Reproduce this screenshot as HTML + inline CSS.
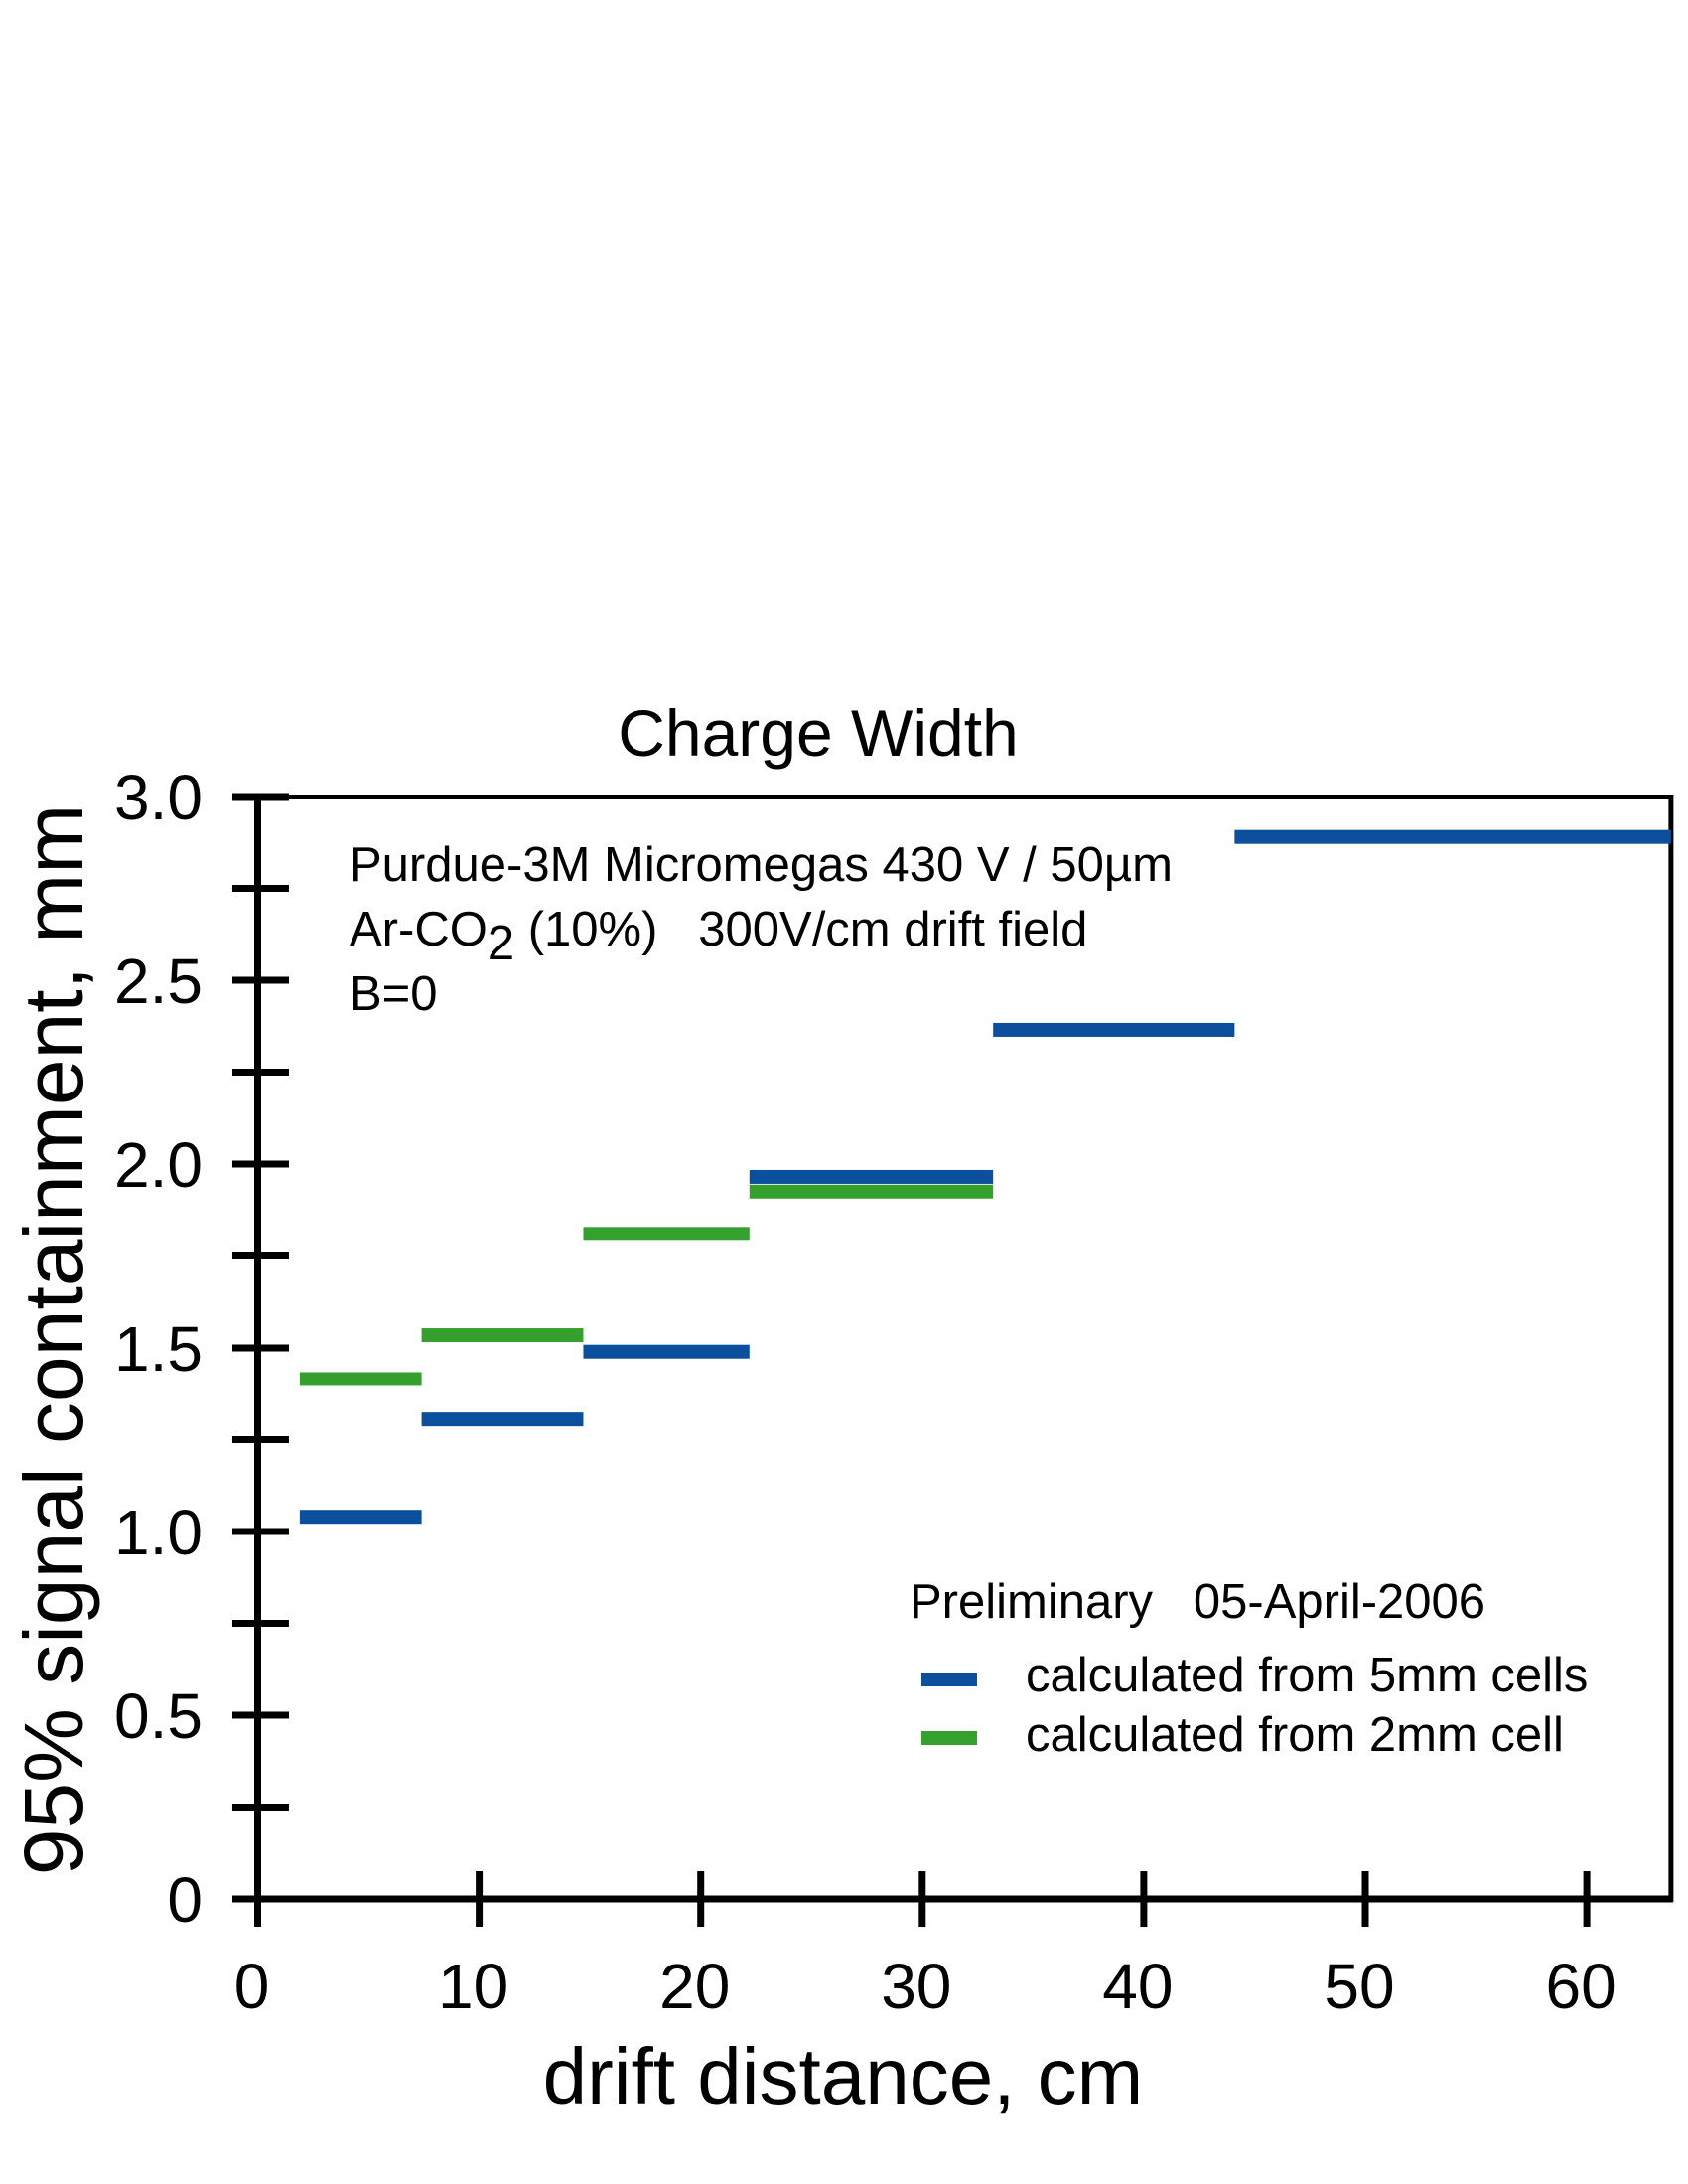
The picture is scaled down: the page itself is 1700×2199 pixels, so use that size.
<!DOCTYPE html>
<html><head><meta charset="utf-8"><style>
html,body{margin:0;padding:0;background:#fff;}
svg{display:block;font-family:"Liberation Sans",Arial,sans-serif;}
</style></head><body>
<svg id="chart" width="1700" height="2199" viewBox="0 0 1700 2199" xmlns="http://www.w3.org/2000/svg">
<rect x="0" y="0" width="1700" height="2199" fill="#fff"/>
<text x="824" y="761" font-size="66" text-anchor="middle">Charge Width</text>
<g id="frame"></g>
<g id="yticks"></g>
<g id="xticks"></g>
<g id="bars"></g>
<text transform="translate(83,1349) rotate(-90)" font-size="84" text-anchor="middle">95% signal containment, mm</text>
<text x="849" y="2118" font-size="80" text-anchor="middle">drift distance, cm</text>
<g font-size="49">
<text x="352" y="887">Purdue-3M Micromegas 430 V / 50µm</text>
<text x="352" y="952" xml:space="preserve">Ar-CO<tspan dy="14">2</tspan><tspan dy="-14"> (10%)   300V/cm drift field</tspan></text>
<text x="352" y="1017">B=0</text>
</g>
<text x="916" y="1629" font-size="49" xml:space="preserve">Preliminary   05-April-2006</text>
<g>
<rect x="928" y="1684" width="56" height="14" fill="#0c4f9c"/>
<text x="1033" y="1703" font-size="49">calculated from 5mm cells</text>
<rect x="928" y="1743" width="56" height="14" fill="#36a02e"/>
<text x="1033" y="1763" font-size="49">calculated from 2mm cell</text>
</g>
</svg>
<script>
const xTicks = [0,10,20,30,40,50,60];
const xTickLabels = ["0","10","20","30","40","50","60"];
const yTicks = [0,0.5,1.0,1.5,2.0,2.5,3.0];
const yTickLabels = ["0","0.5","1.0","1.5","2.0","2.5","3.0"];
const yMinorTicks = [0.25,0.75,1.25,1.75,2.25,2.75];
const blueStart = [1.9,7.4,14.7,22.2,33.2,44.1];
const blueEnd = [7.4,14.7,22.2,33.2,44.1,63.8];
const blueValues = [1.04,1.305,1.49,1.965,2.365,2.89];
const greenStart = [1.9,7.4,14.7,22.2];
const greenEnd = [7.4,14.7,22.2,33.2];
const greenValues = [1.415,1.535,1.81,1.925];

const NS = "http://www.w3.org/2000/svg";
const X0 = 259.5, XS = 22.31, Y0 = 1912, YS = 370;
const xMax = 63.8, yMax = 3.0;
function sx(v){ return X0 + v*XS; }
function sy(v){ return Y0 - v*YS; }
function mk(tag, attrs, parent){
  const e = document.createElementNS(NS, tag);
  for (const k in attrs) e.setAttribute(k, attrs[k]);
  parent.appendChild(e);
  return e;
}
const frame = document.getElementById('frame');
let e;
e = mk('line',{x1:sx(0),y1:sy(yMax),x2:sx(xMax),y2:sy(yMax),stroke:'#000','stroke-width':4},frame);


e = mk('line',{x1:sx(xMax),y1:sy(yMax)-2,x2:sx(xMax),y2:sy(0)+3,stroke:'#000','stroke-width':5},frame);


e = mk('line',{x1:sx(0),y1:sy(yMax),x2:sx(0),y2:1940,stroke:'#000','stroke-width':7},frame);


e = mk('line',{x1:234,y1:sy(0),x2:sx(xMax)+2,y2:sy(0),stroke:'#000','stroke-width':7},frame);



const yt = document.getElementById('yticks');
yTicks.forEach((v,i)=>{
  const l = mk('line',{x1:234,y1:sy(v),x2:291,y2:sy(v),stroke:'#000','stroke-width':7},yt);
  
  
  const t = mk('text',{x:204,y:sy(v)+23,'font-size':64,'text-anchor':'end'},yt);
  t.textContent = yTickLabels[i];
  
  
});
yMinorTicks.forEach(v=>{
  const l = mk('line',{x1:234,y1:sy(v),x2:291,y2:sy(v),stroke:'#000','stroke-width':7},yt);
  
  
});
const xt = document.getElementById('xticks');
xTicks.forEach((v,i)=>{
  if (v>0){
    const l = mk('line',{x1:sx(v),y1:1884,x2:sx(v),y2:1940,stroke:'#000','stroke-width':7},xt);
    
    
  }
  const t = mk('text',{x:sx(v)-6,y:2022,'font-size':64,'text-anchor':'middle'},xt);
  t.textContent = xTickLabels[i];
  
  
});
const bars = document.getElementById('bars');
blueValues.forEach((v,i)=>{
  const r = mk('rect',{x:sx(blueStart[i]),y:sy(v)-7,width:sx(blueEnd[i])-sx(blueStart[i]),height:14,fill:'#0c4f9c'},bars);
  
  
});
greenValues.forEach((v,i)=>{
  const r = mk('rect',{x:sx(greenStart[i]),y:sy(v)-7,width:sx(greenEnd[i])-sx(greenStart[i]),height:14,fill:'#36a02e'},bars);
  
  
});
</script>
</body></html>
